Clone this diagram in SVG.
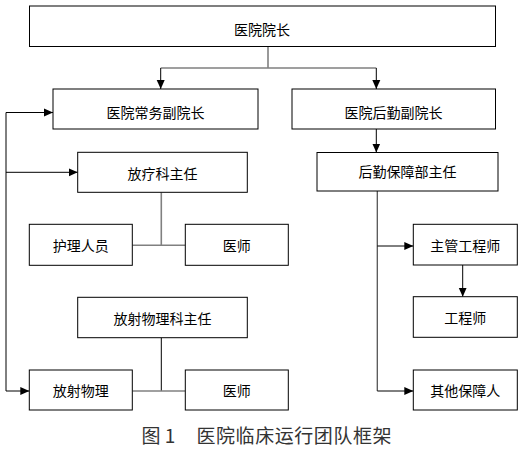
<svg xmlns="http://www.w3.org/2000/svg" width="525" height="454" viewBox="0 0 525 454">
<style>
.box{fill:#fff;stroke:#000;stroke-width:1}
.t{font-family:"Noto Sans CJK SC","Noto Sans",sans-serif;font-size:14px;fill:#000;text-anchor:middle}
.ln{fill:none;stroke:#000;stroke-width:1}
.g{fill:none;stroke:#808080;stroke-width:1.6}
.dg{fill:none;stroke:#555;stroke-width:1.3}
.cap{font-family:"Noto Sans CJK SC","Noto Sans",sans-serif;font-size:19px;fill:#333}
</style>
<defs>
<marker id="arr" markerWidth="10" markerHeight="10" refX="9" refY="5" orient="auto" markerUnits="userSpaceOnUse">
<path d="M0,1 L9,5 L0,9 Z" fill="#000"/>
</marker>
</defs>
<rect width="525" height="454" fill="#fff"/>
<g id="connectors">
<path class="g" d="M268,46.5 V68 M160.7,68 H376.3"/>
<path class="ln" d="M160.7,68 V89" marker-end="url(#arr)"/>
<path class="ln" d="M376.3,68 V89" marker-end="url(#arr)"/>
<path class="ln" d="M376.3,129 V152.5" marker-end="url(#arr)"/>
<path class="ln" d="M6,391 V112.5 H53" marker-end="url(#arr)"/>
<path class="ln" d="M6,172.3 H77.7" marker-end="url(#arr)"/>
<path class="ln" d="M6,391 H29.3" marker-end="url(#arr)"/>
<path class="g" d="M161.3,192.3 V245.3 M132.3,245.3 H185.3"/>
<path class="ln" d="M161.3,337.7 V391"/>
<path class="g" d="M132.3,391 H185.3"/>
<path class="dg" d="M377.3,191 V391"/>
<path class="ln" d="M377.3,246 H413.3" marker-end="url(#arr)"/>
<path class="ln" d="M377.3,391 H413.3" marker-end="url(#arr)"/>
<path class="ln" d="M462.7,265 V296.7" marker-end="url(#arr)"/>
</g>
<g id="n_dean"><rect class="box" x="29.5" y="6" width="466" height="40.5"/><text class="t" x="262" y="35">医院院长</text></g>
<g id="n_exec"><rect class="box" x="53" y="89" width="205" height="40"/><text class="t" x="155.5" y="118">医院常务副院长</text></g>
<g id="n_logi"><rect class="box" x="292" y="89" width="203.5" height="40"/><text class="t" x="393.5" y="118">医院后勤副院长</text></g>
<g id="n_rt"><rect class="box" x="77.7" y="152.3" width="169.6" height="40"/><text class="t" x="162.5" y="179">放疗科主任</text></g>
<g id="n_lsd"><rect class="box" x="317" y="152.5" width="181" height="38.5"/><text class="t" x="407.5" y="177">后勤保障部主任</text></g>
<g id="n_nurse"><rect class="box" x="29.3" y="224.3" width="103" height="41"/><text class="t" x="80.8" y="250.5">护理人员</text></g>
<g id="n_doc1"><rect class="box" x="185.3" y="224.3" width="103" height="41"/><text class="t" x="236.8" y="250.5">医师</text></g>
<g id="n_chief"><rect class="box" x="413.3" y="224.3" width="104" height="40.7"/><text class="t" x="465.3" y="250.5">主管工程师</text></g>
<g id="n_rp"><rect class="box" x="77.7" y="297.3" width="169.6" height="40.4"/><text class="t" x="162.5" y="323.5">放射物理科主任</text></g>
<g id="n_eng"><rect class="box" x="413.3" y="296.7" width="104" height="40.6"/><text class="t" x="465.3" y="323">工程师</text></g>
<g id="n_phys"><rect class="box" x="29.3" y="370" width="103" height="40"/><text class="t" x="80.8" y="396">放射物理</text></g>
<g id="n_doc2"><rect class="box" x="185.3" y="370" width="103" height="40"/><text class="t" x="236.8" y="396">医师</text></g>
<g id="n_other"><rect class="box" x="413.3" y="370" width="104" height="40"/><text class="t" x="465.3" y="396">其他保障人</text></g>
<text class="cap" y="443"><tspan x="141.5">图 1</tspan><tspan x="196.5" textLength="195" lengthAdjust="spacing">医院临床运行团队框架</tspan></text>
</svg>
